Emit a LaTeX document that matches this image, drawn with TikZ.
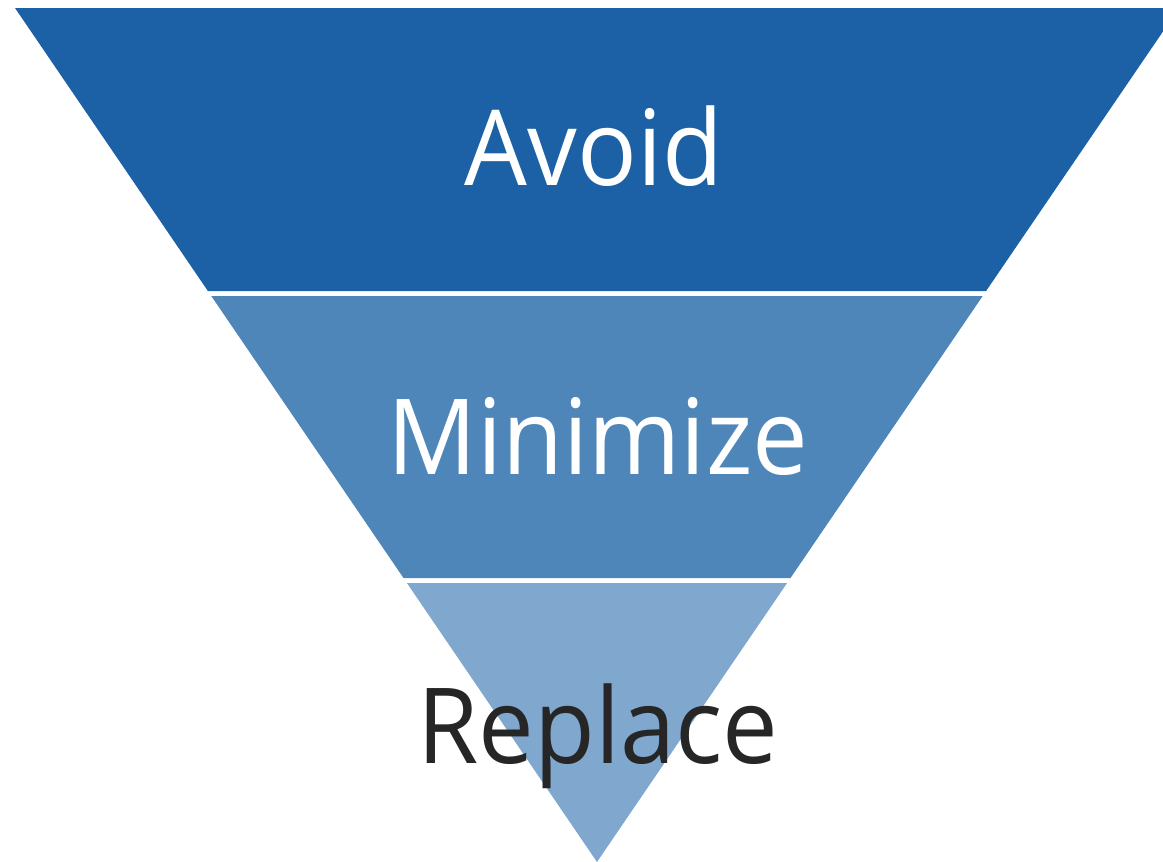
\documentclass[tikz,border=0pt]{standalone}
\usepackage{fontspec}
\usepackage{graphicx}
\setmainfont{Open Sans}
\definecolor{bandA}{HTML}{1C61A5}
\definecolor{bandB}{HTML}{4E86B9}
\definecolor{bandC}{HTML}{80A8CE}
\definecolor{darktext}{HTML}{262626}
\newcommand{\narrowtxt}[1]{\scalebox{0.945}[1]{#1}}
\begin{document}
\begin{tikzpicture}[x=1pt,y=-1pt,
  lbl/.style={anchor=base,inner sep=0pt,font=\fontsize{105}{120}\selectfont}]
\useasboundingbox (0,0) rectangle (1163,862);
\fill[bandA] (15,8) -- (1179,8) -- (986.1,291) -- (207.9,291) -- cycle;
\fill[bandB] (211.3,296) -- (982.7,296) -- (790.5,578) -- (403.5,578) -- cycle;
\fill[bandC] (406.9,583) -- (787.1,583) -- (597,862) -- cycle;
\node[lbl,text=white] (avoid) at (594,185) {\narrowtxt{Avoid}};
\node[lbl,text=white] (minimize) at (598,474) {\narrowtxt{Minimize}};
\node[lbl,text=darktext] (replace) at (598,763) {\narrowtxt{Replace}};
\end{tikzpicture}
\end{document}
